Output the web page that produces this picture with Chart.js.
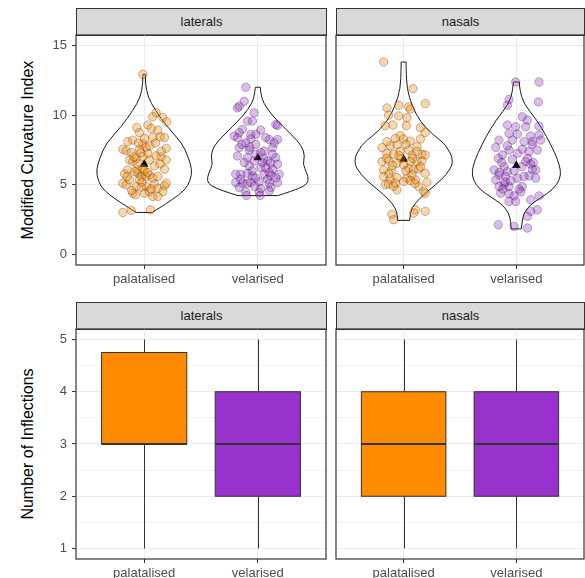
<!DOCTYPE html>
<html>
<head>
<meta charset="utf-8">
<script src="https://cdn.jsdelivr.net/npm/chart.js@4"></script>
<style>
  body { margin: 0; background: #fff; font-family: "Liberation Sans", Arial, sans-serif; }
  #wrap { position: relative; width: 585px; height: 578px; overflow: hidden; }
  canvas { position: absolute; }
  .strip { position: absolute; box-sizing: border-box; border: 1px solid #333; background: #d9d9d9;
           color: #1a1a1a; font-size: 13px; text-align: center; line-height: 26px; }
  .ytitle { position: absolute; font-size: 16px; color: #000; white-space: nowrap;
            transform: translate(-50%, -50%) rotate(-90deg); }
</style>
</head>
<body>
<div id="wrap">
  <div class="strip" style="left:76px;top:8px;width:251px;height:28px">laterals</div>
  <div class="strip" style="left:336px;top:8px;width:249px;height:28px">nasals</div>
  <div class="strip" style="left:76px;top:302px;width:251px;height:28px">laterals</div>
  <div class="strip" style="left:336px;top:302px;width:249px;height:28px">nasals</div>
  <div class="ytitle" style="left:28px;top:150px">Modified Curvature Index</div>
  <div class="ytitle" style="left:28px;top:444px">Number of Inflections</div>
  <canvas id="tl" width="290" height="256" style="left:40px;top:34px"></canvas>
  <canvas id="tr" width="255" height="256" style="left:330px;top:34px"></canvas>
  <canvas id="bl" width="290" height="250" style="left:40px;top:328px"></canvas>
  <canvas id="br" width="255" height="250" style="left:330px;top:328px"></canvas>
</div>
<script>
// categories and facets
const CATEGORIES = ["palatalised", "velarised"];
const COLORS = ["#FF8C00", "#9932CC"];
const FILLS = ["rgba(255,140,0,0.36)", "rgba(153,50,204,0.33)"];

// tick values
const MCI_TICKS = [0, 2.5, 5, 7.5, 10, 12.5, 15];
const MCI_LABELS = [0, 5, 10, 15];
const INF_TICKS = [1, 1.5, 2, 2.5, 3, 3.5, 4, 4.5, 5];
const INF_LABELS = [1, 2, 3, 4, 5];

// jittered points: [x jitter, Modified Curvature Index]
const LAT_PAL_PTS = [[-0.012,12.93],[0.106,10.17],[0.076,9.88],[0.164,9.83],[0.199,9.52],[0.032,9.29],[-0.065,9.12],[0.120,8.93],[-0.041,8.74],[-0.144,8.10],[-0.100,8.21],[0.076,8.40],[0.141,8.45],[0.179,8.40],[-0.012,7.93],[0.018,7.69],[-0.188,7.55],[-0.158,7.45],[-0.114,7.31],[-0.041,7.55],[0.194,7.62],[0.106,7.07],[0.150,7.02],[-0.129,6.79],[-0.100,6.67],[-0.070,6.90],[0.194,6.79],[0.091,6.36],[0.179,6.12],[-0.173,5.79],[-0.056,5.83],[-0.026,5.60],[0.018,5.60],[0.047,5.71],[0.076,5.48],[-0.085,5.95],[-0.188,5.12],[-0.158,5.00],[0.018,4.88],[0.091,5.07],[0.120,4.76],[0.179,4.93],[0.194,5.12],[-0.070,4.88],[-0.026,4.83],[-0.100,4.40],[-0.076,4.29],[0.003,4.40],[0.047,4.52],[0.076,4.17],[0.164,4.52],[-0.056,6.07],[-0.012,6.19],[-0.144,6.07],[0.047,6.79],[0.003,8.33],[0.062,9.05],[-0.188,3.02],[-0.114,3.17],[0.056,3.21],[0.120,4.17],[-0.041,5.36],[-0.129,5.36],[0.032,7.26],[-0.012,7.02],
  [-0.03,7.3],[-0.06,6.5],[0.0,6.0],[-0.02,5.2],[0.03,5.9],[-0.09,7.0],[0.05,7.8],[-0.05,8.0],[0.12,5.6],[0.14,6.5],[-0.15,5.6],[0.10,8.0],[-0.11,4.6],[0.06,4.7],[0.15,7.4]];
const LAT_VEL_PTS = [[-0.106,12.0],[-0.120,11.0],[-0.164,10.64],[-0.179,10.52],[-0.032,10.17],[-0.091,9.57],[-0.047,9.57],[0.158,9.33],[0.173,9.26],[-0.135,8.98],[0.026,8.93],[-0.164,8.74],[-0.018,8.62],[-0.179,8.38],[-0.062,8.31],[0.100,8.26],[0.173,8.26],[-0.106,8.02],[0.144,8.02],[-0.018,7.90],[-0.164,7.67],[0.129,7.67],[-0.076,7.50],[0.056,7.43],[0.026,7.31],[-0.179,7.07],[-0.091,6.95],[0.158,6.95],[-0.032,6.71],[0.085,6.71],[0.114,6.55],[0.173,6.48],[-0.076,6.36],[0.026,6.24],[0.129,6.12],[-0.194,5.76],[-0.150,5.76],[-0.091,5.83],[-0.047,5.64],[0.056,5.76],[0.114,5.69],[0.188,5.76],[0.085,5.40],[-0.194,5.17],[-0.135,5.12],[-0.091,5.12],[-0.062,5.17],[0.012,5.21],[0.100,5.12],[0.173,5.17],[-0.164,4.81],[0.026,4.74],[0.114,4.81],[-0.106,4.50],[0.012,4.45],[0.100,4.57],[-0.150,5.40],[0.070,6.24],[-0.018,7.19],[-0.208,8.50],[-0.062,8.62],[-0.100,4.24],[0.020,4.23],
  [-0.05,6.0],[-0.12,6.6],[0.05,6.9],[-0.02,5.5],[0.13,7.2],[-0.14,7.9],[0.07,8.4],[-0.03,4.9],[0.16,5.5],[0.04,6.6],[-0.07,7.7],[0.10,5.9]];
const NAS_PAL_PTS = [[-0.178,13.81],[0.083,11.90],[0.192,10.83],[-0.148,10.52],[-0.044,10.71],[0.044,10.60],[0.059,10.43],[-0.133,10.0],[-0.044,9.95],[0.030,9.81],[-0.163,9.24],[-0.095,9.29],[0.024,9.24],[0.148,9.10],[0.192,8.76],[-0.030,8.52],[-0.074,8.33],[0,8.29],[0.059,8.14],[0.148,8.29],[-0.192,7.67],[-0.118,7.81],[-0.059,7.86],[0.118,7.74],[-0.148,7.26],[-0.089,7.19],[0.074,7.14],[0.163,7.19],[0.192,7.14],[-0.192,6.67],[-0.133,6.71],[-0.059,6.55],[0.118,6.67],[0.163,6.71],[0.044,6.19],[0.089,6.07],[0.133,6.14],[-0.104,6.07],[-0.178,6.07],[0.192,5.83],[-0.178,5.60],[-0.118,5.43],[-0.059,5.52],[0.030,5.48],[0.104,5.36],[0.207,5.19],[-0.163,5.0],[-0.133,5.05],[-0.074,5.12],[-0.059,4.64],[0.133,4.88],[0.178,4.52],[0.192,4.40],[0.104,3.21],[0.089,2.98],[0.192,3.10],[-0.104,2.90],[-0.089,2.50],[0,6.43],[0.059,6.67],[-0.030,7.38],[-0.148,8.10],[0.044,7.50],[0.074,5.71],[0,5.24],
  [-0.02,6.9],[0.02,6.0],[-0.10,6.4],[0.08,6.9],[0.12,7.4],[-0.13,5.8],[0.15,6.3],[-0.04,7.1],[0.06,5.3],[-0.09,4.9],[0.10,5.1],[-0.15,6.9],[0.02,7.9]];
const NAS_VEL_PTS = [[-0.006,12.38],[0.201,12.38],[-0.065,11.12],[-0.080,10.71],[0.195,10.95],[0.053,9.88],[0.098,9.64],[-0.080,9.29],[-0.006,9.17],[0.083,9.17],[0.201,9.21],[-0.065,8.69],[0.009,8.64],[0.127,8.50],[0.201,8.57],[-0.154,8.21],[0.068,8.10],[0.142,8.10],[0.216,8.21],[-0.183,7.69],[-0.065,7.50],[0.053,7.55],[0.112,7.38],[0.186,7.50],[-0.124,7.14],[-0.036,6.83],[-0.160,6.90],[0.083,6.67],[0.127,6.50],[-0.109,6.31],[-0.198,6.07],[0.142,6.12],[-0.080,5.95],[-0.154,5.71],[0.112,5.64],[0.172,5.48],[0.009,5.48],[-0.183,5.36],[-0.109,5.0],[-0.065,4.88],[-0.154,4.88],[0.053,4.88],[0.024,4.69],[-0.139,4.40],[-0.065,4.36],[-0.021,4.21],[0.201,4.21],[-0.065,3.81],[-0.006,3.81],[0.127,3.93],[0.186,3.21],[0.127,3.10],[0.098,2.74],[-0.160,2.14],[-0.021,2.02],[0.098,1.90],[-0.095,5.60],[0.068,5.60],[-0.036,8.21],[0.009,7.26],[0.172,6.07],
  [-0.10,5.2],[-0.12,4.7],[-0.05,5.3],[0.05,6.3],[0.10,6.9],[-0.02,6.0],[0.15,6.6],[-0.13,6.6],[0.04,4.5],[-0.08,7.8],[0.14,7.9],[-0.15,5.9]];

// group means (triangles)
const LAT_MEANS = [6.48, 6.95];
const NAS_MEANS = [6.83, 6.38];

// violin outlines: [Modified Curvature Index, half width in category units]
const LAT_PAL_VIOLIN = [[3.02,0.070],[3.33,0.132],[3.93,0.246],[4.64,0.361],[5.3,0.405],[6.07,0.423],[7.0,0.387],[7.98,0.335],[9.17,0.202],[10.36,0.097],[11.3,0.033],[12.26,0.011],[12.93,0.011]];
const LAT_VEL_VIOLIN = [[4.23,0.176],[4.57,0.308],[4.93,0.414],[5.29,0.449],[5.88,0.431],[6.48,0.396],[7.07,0.414],[7.79,0.387],[8.5,0.308],[9.21,0.220],[9.93,0.132],[10.88,0.047],[11.6,0.026],[12.0,0.022]];
const NAS_PAL_VIOLIN = [[2.45,0.053],[3.1,0.059],[3.69,0.103],[4.29,0.176],[5.0,0.282],[5.71,0.379],[6.67,0.449],[7.86,0.379],[8.57,0.264],[9.52,0.147],[10.7,0.073],[11.9,0.029],[13.3,0.022],[13.81,0.022]];
const NAS_VEL_VIOLIN = [[1.84,0.044],[2.26,0.050],[2.98,0.064],[3.69,0.138],[4.4,0.282],[5.0,0.361],[5.71,0.396],[6.4,0.383],[7.26,0.343],[8.45,0.270],[9.64,0.182],[10.83,0.064],[11.8,0.031],[12.38,0.026]];

// boxplots: [min, q1, median, q3, max] of Number of Inflections
const LAT_BOXES = [[1, 3, 3, 4.75, 5], [1, 2, 3, 4, 5]];
const NAS_BOXES = [[1, 2, 3, 4, 5], [1, 2, 3, 4, 5]];

Chart.defaults.font.family = '"Liberation Sans", Arial, sans-serif';

// smooth path through a list of pixel points
function smoothPath(ctx, pts, first) {
    if (first) ctx.moveTo(pts[0][0], pts[0][1]); else ctx.lineTo(pts[0][0], pts[0][1]);
    for (let i = 1; i < pts.length - 1; i++) {
        const mx = (pts[i][0] + pts[i + 1][0]) / 2, my = (pts[i][1] + pts[i + 1][1]) / 2;
        ctx.quadraticCurveTo(pts[i][0], pts[i][1], mx, my);
    }
    const last = pts[pts.length - 1];
    ctx.lineTo(last[0], last[1]);
}

function drawViolin(ctx, xs, ys, cat, prof) {
    const right = prof.map(p => [xs.getPixelForValue(cat + p[1]), ys.getPixelForValue(p[0])]);
    const left = prof.map(p => [xs.getPixelForValue(cat - p[1]), ys.getPixelForValue(p[0])]).reverse();
    ctx.beginPath();
    smoothPath(ctx, right, true);
    smoothPath(ctx, left, false);
    ctx.closePath();
    ctx.strokeStyle = "#1a1a1a";
    ctx.lineWidth = 1;
    ctx.stroke();
}

function drawBox(ctx, xs, ys, cat, b, color) {
    const xl = xs.getPixelForValue(cat - 0.375), xr = xs.getPixelForValue(cat + 0.375);
    const xc = Math.round(xs.getPixelForValue(cat)) + 0.5;
    const [mn, q1, med, q3, mx] = b.map(v => ys.getPixelForValue(v));
    ctx.strokeStyle = "#333";
    ctx.lineWidth = 1;
    ctx.beginPath();
    ctx.moveTo(xc, mx); ctx.lineTo(xc, q3);
    ctx.moveTo(xc, q1); ctx.lineTo(xc, mn);
    ctx.stroke();
    ctx.fillStyle = color;
    ctx.fillRect(xl, q3, xr - xl, q1 - q3);
    ctx.strokeRect(xl, q3, xr - xl, q1 - q3);
    ctx.lineWidth = 2.2;
    ctx.beginPath();
    ctx.moveTo(xl, med); ctx.lineTo(xr, med);
    ctx.stroke();
}

const decor = {
    id: "decor",
    beforeDatasetsDraw(chart, args, opts) {
        const { ctx, scales: { x, y } } = chart;
        ctx.save();
        (opts.violins || []).forEach((v, i) => drawViolin(ctx, x, y, i + 1, v));
        (opts.boxes || []).forEach((b, i) => drawBox(ctx, x, y, i + 1, b, COLORS[i]));
        ctx.restore();
    },
    afterDraw(chart) {
        const { ctx, chartArea: a } = chart;
        ctx.save();
        ctx.strokeStyle = "#333";
        ctx.lineWidth = 1.2;
        ctx.strokeRect(a.left, a.top, a.right - a.left, a.bottom - a.top);
        ctx.restore();
    }
};

function pointSets(groups, means) {
    const sets = groups.map((pts, i) => ({
        data: pts.map(p => ({ x: i + 1 + p[0], y: p[1] })),
        pointRadius: 4.2,
        backgroundColor: FILLS[i],
        borderColor: "rgba(0,0,0,0.33)",
        borderWidth: 0.8
    }));
    sets.push({
        data: means.map((m, i) => ({ x: i + 1, y: m })),
        pointStyle: "triangle",
        pointRadius: 5,
        backgroundColor: "#000",
        borderColor: "#000",
        borderWidth: 0
    });
    return sets;
}

function panel(id, o) {
    return new Chart(document.getElementById(id), {
        type: "scatter",
        data: { datasets: o.datasets || [] },
        options: {
            responsive: false,
            animation: false,
            events: [],
            layout: { autoPadding: false, padding: { top: 1, right: o.left ? 4 : 1, left: 0, bottom: 0 } },
            plugins: {
                legend: { display: false },
                tooltip: { enabled: false },
                decor: { violins: o.violins, boxes: o.boxes }
            },
            scales: {
                x: {
                    type: "linear", min: 0.4, max: 2.6,
                    afterBuildTicks: s => { s.ticks = CATEGORIES.map((c, i) => ({ value: i + 1 })); },
                    afterFit: s => { s.height = o.xh; s.paddingLeft = 0; s.paddingRight = 0; },
                    ticks: { callback: (v, i) => CATEGORIES[i], color: "#4d4d4d", font: { size: 13 },
                             padding: 3, maxRotation: 0, autoSkip: false },
                    grid: { color: "#ebebeb", lineWidth: 1, tickLength: 4, tickColor: "#333", tickWidth: 1 },
                    border: { display: false }
                },
                y: {
                    type: "linear", min: o.yMin, max: o.yMax,
                    afterBuildTicks: s => { s.ticks = o.yTicks.map(v => ({ value: v })); },
                    afterFit: s => { s.width = o.left ? 36 : 6; s.paddingTop = 0; s.paddingBottom = 0; },
                    ticks: { display: o.left, callback: v => o.yLabels.includes(v) ? v : "",
                             color: "#4d4d4d", font: { size: 13 }, padding: 5, autoSkip: false },
                    grid: {
                        color: "#ebebeb",
                        lineWidth: c => o.yLabels.includes(c.tick && c.tick.value) ? 1.1 : 0.55,
                        drawTicks: o.left, tickLength: 4, tickWidth: 1,
                        tickColor: c => o.yLabels.includes(c.tick && c.tick.value) ? "#333" : "rgba(0,0,0,0)"
                    },
                    border: { display: false }
                }
            }
        },
        plugins: [decor]
    });
}

const TOP_ROW = { yMin: -0.75, yMax: 15.75, yTicks: MCI_TICKS, yLabels: MCI_LABELS, xh: 25 };
const BOTTOM_ROW = { yMin: 0.8, yMax: 5.2, yTicks: INF_TICKS, yLabels: INF_LABELS, xh: 19 };

panel("tl", Object.assign({}, TOP_ROW, { left: true, violins: [LAT_PAL_VIOLIN, LAT_VEL_VIOLIN],
    datasets: pointSets([LAT_PAL_PTS, LAT_VEL_PTS], LAT_MEANS) }));
panel("tr", Object.assign({}, TOP_ROW, { left: false, violins: [NAS_PAL_VIOLIN, NAS_VEL_VIOLIN],
    datasets: pointSets([NAS_PAL_PTS, NAS_VEL_PTS], NAS_MEANS) }));
panel("bl", Object.assign({}, BOTTOM_ROW, { left: true, boxes: LAT_BOXES }));
panel("br", Object.assign({}, BOTTOM_ROW, { left: false, boxes: NAS_BOXES }));
</script>
</body>
</html>
